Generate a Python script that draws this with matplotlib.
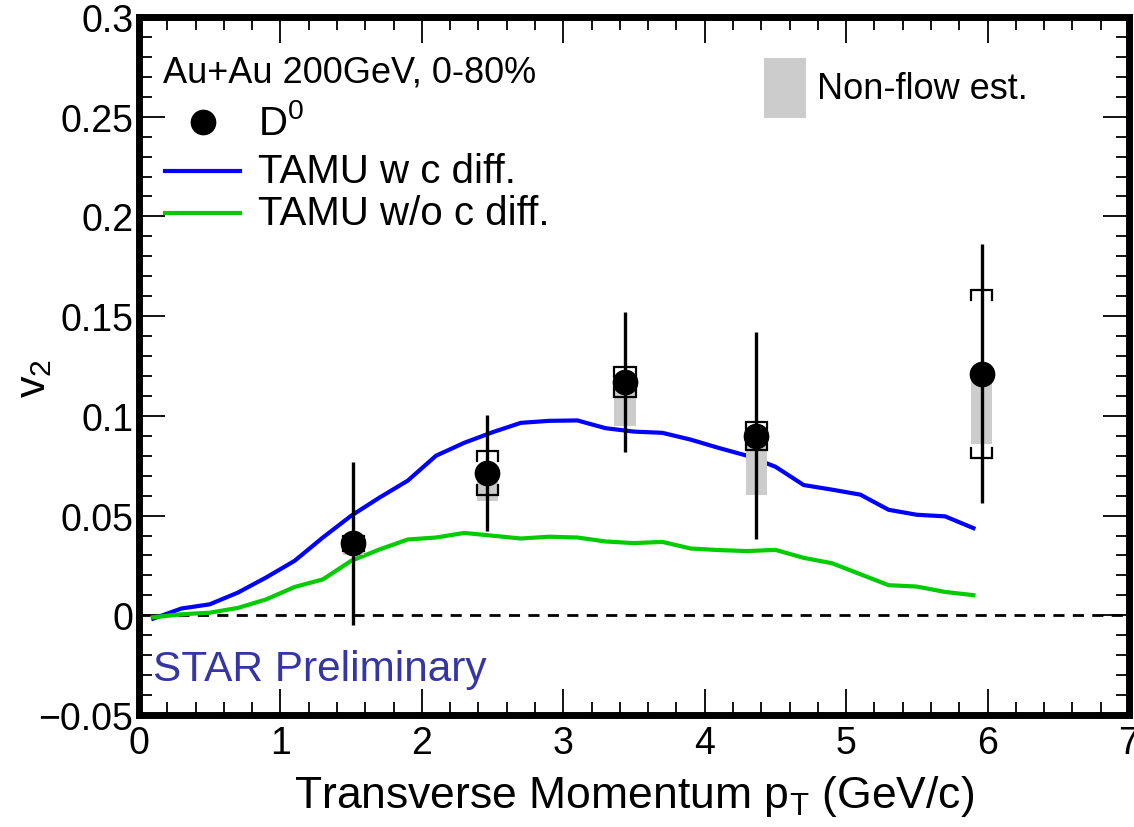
import matplotlib
matplotlib.use("Agg")
import matplotlib.pyplot as plt
from matplotlib.patches import Rectangle
from matplotlib.ticker import MultipleLocator, FuncFormatter
from matplotlib.lines import Line2D

plt.rcParams['font.family'] = ['Liberation Sans', 'DejaVu Sans']
plt.rcParams['mathtext.fontset'] = 'custom'
plt.rcParams['mathtext.rm'] = 'Liberation Sans'
plt.rcParams['mathtext.it'] = 'Liberation Sans'

# ---- data ----
d0_pt = [1.515, 2.464, 3.435, 4.365, 5.958]
d0_v2 = [0.036, 0.0712, 0.117, 0.0901, 0.1211]
d0_stat = [0.041, 0.029, 0.035, 0.052, 0.065]
d0_sys = [0.004, 0.011, 0.0075, 0.007, 0.042]
d0_nonflow = [0.006, 0.014, 0.022, 0.030, 0.035]

tamu_pt = [0.1, 0.3, 0.5, 0.7, 0.9, 1.1, 1.3, 1.5, 1.7, 1.9, 2.1, 2.3, 2.5, 2.7,
           2.9, 3.1, 3.3, 3.5, 3.7, 3.9, 4.1, 4.3, 4.5, 4.7, 4.9, 5.1, 5.3, 5.5,
           5.7, 5.9]
tamu_diff = [-0.0017, 0.0034, 0.0055, 0.0114, 0.019, 0.0273, 0.039, 0.0499,
             0.059, 0.0675, 0.080, 0.0865, 0.0918, 0.0965, 0.0975, 0.0977,
             0.0938, 0.0921, 0.0915, 0.0881, 0.0839, 0.080, 0.0745, 0.0653,
             0.063, 0.0605, 0.0529, 0.0504, 0.0496, 0.0437]
tamu_nodiff = [-0.001, 0.0005, 0.0013, 0.0037, 0.008, 0.0142, 0.018, 0.0273,
               0.033, 0.038, 0.039, 0.0413, 0.0399, 0.0385, 0.0394, 0.039,
               0.037, 0.0362, 0.0368, 0.0335, 0.0327, 0.0322, 0.0328, 0.0288,
               0.0261, 0.0206, 0.0151, 0.0144, 0.0117, 0.0101]

x_ticks = [0, 1, 2, 3, 4, 5, 6, 7]
y_ticks = [-0.05, 0, 0.05, 0.1, 0.15, 0.2, 0.25, 0.3]

fig = plt.figure(figsize=(11.34, 8.28), dpi=100)
ax = fig.add_axes([139/1134, 1-716/828, 990/1134, 698/828])
ax.set_xlim(0, 7)
ax.set_ylim(-0.05, 0.3)

ax.axhline(0, color='black', lw=2, ls=(0, (4, 3)), zorder=1)

ax.plot(tamu_pt, tamu_diff, color='#0000ff', lw=3.0, zorder=2, solid_joinstyle='miter')
ax.plot(tamu_pt, tamu_nodiff, color='#00cc00', lw=3.0, zorder=2, solid_joinstyle='miter')

bw = 0.076
for x, y, nf in zip(d0_pt, d0_v2, d0_nonflow):
    ax.add_patch(Rectangle((x - bw, y - nf), 2 * bw, nf, facecolor='#cccccc',
                           edgecolor='none', zorder=3))

ax.errorbar(d0_pt, d0_v2, yerr=d0_stat, fmt='none', ecolor='black',
            elinewidth=2.4, capsize=0, zorder=4)

th = 0.005
for x, y, s in zip(d0_pt, d0_v2, d0_sys):
    yt = y + s
    yb = y - s
    ax.plot([x - bw, x - bw, x + bw, x + bw], [yt - th, yt, yt, yt - th],
            color='black', lw=1.6, zorder=4, solid_joinstyle='miter')
    ax.plot([x - bw, x - bw, x + bw, x + bw], [yb + th, yb, yb, yb + th],
            color='black', lw=1.6, zorder=4, solid_joinstyle='miter')

ax.plot(d0_pt, d0_v2, 'o', color='black', ms=17.5, zorder=5)

# axes styling
for sp in ax.spines.values():
    sp.set_linewidth(5)
ax.xaxis.set_minor_locator(MultipleLocator(0.2))
ax.yaxis.set_minor_locator(MultipleLocator(0.01))
ax.set_xticks(x_ticks)
ax.set_yticks(y_ticks)
ax.yaxis.set_major_formatter(FuncFormatter(lambda v, p: ('%g' % v).replace('-', '\u2212')))
ax.xaxis.set_major_formatter(FuncFormatter(lambda v, p: '%g' % v))
ax.tick_params(which='major', direction='in', length=19, width=1.3, top=True,
               right=True, labelsize=27, pad=4)
ax.tick_params(which='minor', direction='in', length=9.5, width=1.3, top=True,
               right=True)
ax.tick_params(axis='x', which='major', pad=7)

ax.set_xlabel('Transverse Momentum p$_{\\mathrm{T}}$ (GeV/c)', fontsize=32, labelpad=9)
fig.text(34/1134, 1-378/828, 'v$_{2}$', fontsize=31, rotation=90,
         ha='center', va='center')

# legend / annotations
ax.text(0.024, 0.921, 'Au+Au 200GeV, 0-80%', transform=ax.transAxes,
        fontsize=26, va='center', ha='left')
ax.add_line(Line2D([0.0646], [0.8496], marker='o', color='black', ms=17.5,
                   transform=ax.transAxes))
ax.text(0.120, 0.849, 'D$^{0}$', transform=ax.transAxes, fontsize=29,
        va='center', ha='left')
ax.add_line(Line2D([0.026, 0.102], [0.779, 0.779], color='#0000ff', lw=3,
                   transform=ax.transAxes))
ax.text(0.120, 0.779, 'TAMU w c diff.', transform=ax.transAxes, fontsize=29,
        va='center', ha='left')
ax.add_line(Line2D([0.026, 0.102], [0.719, 0.719], color='#00cc00', lw=3,
                   transform=ax.transAxes))
ax.text(0.120, 0.719, 'TAMU w/o c diff.', transform=ax.transAxes, fontsize=29,
        va='center', ha='left')
ax.add_patch(Rectangle((0.631, 0.855), 0.043, 0.086, facecolor='#cccccc',
                       edgecolor='none', transform=ax.transAxes))
ax.text(0.685, 0.897, 'Non-flow est.', transform=ax.transAxes, fontsize=26,
        va='center', ha='left')
ax.text(0.014, 0.066, 'STAR Preliminary', transform=ax.transAxes, fontsize=30.5,
        va='center', ha='left', color='#3535a5')

fig.savefig('out.png', dpi=100)
